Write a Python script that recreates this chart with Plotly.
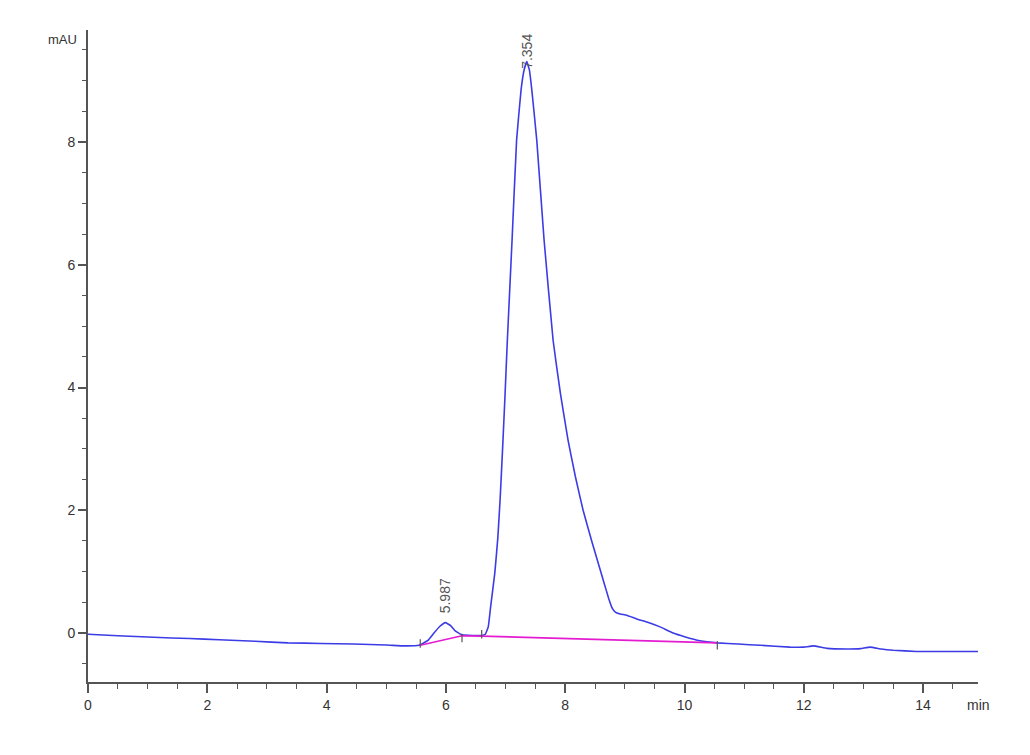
import plotly.graph_objects as go

# Chromatogram signal (min, mAU)
time_min = [0, 0.5, 1.1, 1.7, 2.2, 2.8, 3.35, 3.9, 4.45, 5.0, 5.3, 5.55, 5.7, 5.8, 5.9, 5.99,
            6.08, 6.15, 6.27, 6.45, 6.6, 6.66, 6.71, 6.75, 6.82, 6.87, 6.91, 6.95, 6.99, 7.03,
            7.109, 7.185, 7.26, 7.31, 7.356, 7.40, 7.44, 7.523, 7.646, 7.797, 7.92, 8.048,
            8.17, 8.30, 8.45, 8.55, 8.65, 8.73, 8.79, 8.84, 8.92, 9.03, 9.2, 9.37, 9.59, 9.81,
            10.0, 10.26, 10.55, 10.9, 11.27, 11.77, 12.0, 12.16, 12.39, 12.72, 12.95, 13.11,
            13.3, 13.5, 13.89, 14.3, 14.92]
signal_mau = [-0.02, -0.045, -0.07, -0.09, -0.11, -0.135, -0.16, -0.17, -0.18, -0.195, -0.21,
              -0.2, -0.12, 0.0, 0.11, 0.17, 0.12, 0.04, -0.03, -0.04, -0.04, -0.02, 0.1, 0.43,
              0.98, 1.55, 2.2, 3.0, 3.85, 4.77, 6.40, 8.03, 8.85, 9.17, 9.31, 9.17, 8.85, 8.03,
              6.40, 4.77, 3.9, 3.14, 2.55, 2.0, 1.48, 1.15, 0.82, 0.56, 0.40, 0.34, 0.31, 0.29,
              0.23, 0.18, 0.10, 0.0, -0.06, -0.125, -0.16, -0.18, -0.2, -0.23, -0.23, -0.21,
              -0.25, -0.26, -0.255, -0.23, -0.26, -0.28, -0.30, -0.30, -0.30]

# Integration baseline
baseline_time = [5.57, 6.27, 6.60, 10.55]
baseline_val = [-0.2, -0.045, -0.05, -0.16]

# Integration event marks
mark_time = [5.57, 6.27, 6.60, 10.55]
mark_val = [-0.17, -0.08, -0.02, -0.2]

# Peak labels
peak_time = [5.987, 7.354]
peak_label_y = [0.60, 9.48]
peak_text = ["5.987", "7.354"]

x_ticks = [0, 2, 4, 6, 8, 10, 12, 14]
y_ticks = [0, 2, 4, 6, 8]

fig = go.Figure()
fig.add_trace(go.Scatter(x=time_min, y=signal_mau, mode="lines",
                         line=dict(color="#3c3ce6", width=1.6, shape="spline", smoothing=0.3),
                         hoverinfo="skip"))
fig.add_trace(go.Scatter(x=baseline_time, y=baseline_val, mode="lines",
                         line=dict(color="#e41ccf", width=1.6), hoverinfo="skip"))
fig.add_trace(go.Scatter(x=mark_time, y=mark_val, mode="markers",
                         marker=dict(symbol="line-ns", size=6,
                                     line=dict(color="#555555", width=1.2)),
                         hoverinfo="skip"))

for t, yv, txt in zip(peak_time, peak_label_y, peak_text):
    fig.add_annotation(x=t, y=yv, text=txt, showarrow=False, textangle=-90,
                       xanchor="center", yanchor="middle",
                       font=dict(family="Liberation Sans, Arial", size=14, color="#555555"))

fig.add_annotation(xref="paper", yref="paper", x=-0.029, y=0.986, text="mAU",
                   showarrow=False, xanchor="center", yanchor="middle",
                   font=dict(family="Liberation Sans, Arial", size=13, color="#333333"))
fig.add_annotation(xref="paper", yref="paper", x=0.985, y=-0.035, text="min",
                   showarrow=False, xanchor="left", yanchor="middle",
                   font=dict(family="Liberation Sans, Arial", size=14, color="#333333"))

axis_common = dict(showgrid=False, zeroline=False, showline=True, linecolor="#555555",
                   linewidth=2, ticks="outside", tickcolor="#555555", tickwidth=1.5,
                   automargin=False,
                   tickfont=dict(family="Liberation Sans, Arial", size=14, color="#333333"))

fig.update_xaxes(range=[0, 14.92], tickvals=x_ticks, ticklen=9,
                 minor=dict(dtick=0.5, ticklen=5, ticks="outside", tickcolor="#555555",
                            tickwidth=1.2), **axis_common)
fig.update_yaxes(range=[-0.798, 9.825], tickvals=y_ticks, ticklen=8,
                 minor=dict(dtick=0.5, ticklen=4, ticks="outside", tickcolor="#555555",
                            tickwidth=1.2), **axis_common)

# page body adds an 8px offset, so the figure is sized/margined to land the plot area
# at the same window position as the reference
fig.update_layout(width=1014, height=739, showlegend=False,
                  margin=dict(l=80, r=44, t=22, b=65, autoexpand=False),
                  paper_bgcolor="white", plot_bgcolor="white")

fig.write_html("out.html")
